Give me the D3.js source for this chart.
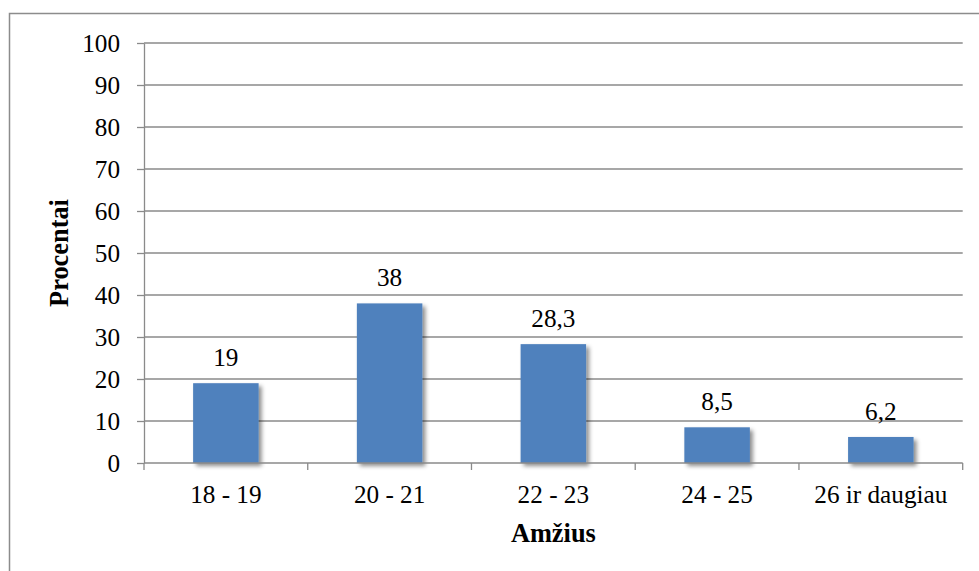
<!DOCTYPE html>
<html>
<head>
<meta charset="utf-8">
<script src="https://cdn.jsdelivr.net/npm/d3@7"></script>
<style>
  html, body { margin: 0; padding: 0; background: #fff; }
  svg { display: block; }
</style>
</head>
<body>
<svg id="chart" width="979" height="571"></svg>
<script>
// Age groups and share of respondents (%)
const categories = ["18 - 19", "20 - 21", "22 - 23", "24 - 25", "26 ir daugiau"];
const values = [19, 38, 28.3, 8.5, 6.2];
const valueLabels = ["19", "38", "28,3", "8,5", "6,2"];
const yTicks = [0, 10, 20, 30, 40, 50, 60, 70, 80, 90, 100];
const xTitle = "Amžius";
const yTitle = "Procentai";

const FONT = '"Liberation Serif", serif';

const svg = d3.select("#chart");
const plot = { left: 144, right: 962.7, top: 43, bottom: 463 };
const gridColor = "#8a8a8a";

// Pick font sizes so the text keeps its intended widths
function fitSize(str, weight, targetWidth) {
  const t = svg.append("text").style("font-family", FONT).style("font-weight", weight)
    .style("font-size", "100px").text(str);
  const w = t.node().getComputedTextLength();
  t.remove();
  return w > 0 ? 100 * targetWidth / w : 25;
}
const labelSize = fitSize("18 - 19", "normal", 71.5);
const titleSize = fitSize("Amžius", "bold", 85);

function serif(sel, size, weight) {
  return sel.style("font-family", FONT).style("font-size", size + "px")
    .style("font-weight", weight || "normal").style("fill", "#000");
}

// Shadow under the bars
const defs = svg.append("defs");
const f = defs.append("filter").attr("id", "barShadow")
  .attr("x", "-20%").attr("y", "-20%").attr("width", "150%").attr("height", "150%");
f.append("feDropShadow").attr("dx", 3).attr("dy", 3).attr("stdDeviation", 2)
  .attr("flood-color", "#000").attr("flood-opacity", 0.45);

// Outer chart frame (runs off the right and bottom edges)
svg.append("rect")
  .attr("x", 9.5).attr("y", 13.5).attr("width", 1000).attr("height", 600)
  .attr("fill", "none").attr("stroke", "#8c8c8c").attr("stroke-width", 1.5);

const x = d3.scaleBand().domain(categories).range([plot.left, plot.right]).padding(0);
const y = d3.scaleLinear().domain([0, 100]).range([plot.bottom, plot.top]);

// Horizontal gridlines
svg.append("g").selectAll("line").data(yTicks.filter(d => d > 0)).join("line")
  .attr("x1", plot.left).attr("x2", plot.right)
  .attr("y1", d => y(d)).attr("y2", d => y(d))
  .attr("stroke", gridColor).attr("stroke-width", 1.3);

// Y axis
const yAxis = svg.append("g").attr("transform", `translate(${plot.left},0)`)
  .call(d3.axisLeft(y).tickValues(yTicks).tickSize(7).tickPadding(17).tickSizeOuter(0));
yAxis.select(".domain").attr("stroke", gridColor).attr("stroke-width", 1.3);
yAxis.selectAll(".tick line").attr("stroke", gridColor).attr("stroke-width", 1.3);
serif(yAxis.selectAll(".tick text"), labelSize);

// Bars
const barW = x.bandwidth() * 0.4;
svg.append("g").selectAll("rect").data(values).join("rect")
  .attr("x", (d, i) => x(categories[i]) + (x.bandwidth() - barW) / 2)
  .attr("width", barW)
  .attr("y", d => y(d))
  .attr("height", d => y(0) - y(d))
  .attr("fill", "#4f81bd")
  .attr("filter", "url(#barShadow)");

// X axis with ticks between categories
const xAxisG = svg.append("g").attr("transform", `translate(0,${plot.bottom})`);
xAxisG.append("line").attr("x1", plot.left).attr("x2", plot.right)
  .attr("stroke", gridColor).attr("stroke-width", 1.3);
const bounds = categories.map(c => x(c)).concat([plot.right]);
xAxisG.selectAll("line.tk").data(bounds).join("line").attr("class", "tk")
  .attr("x1", d => d).attr("x2", d => d).attr("y1", 0).attr("y2", 7)
  .attr("stroke", gridColor).attr("stroke-width", 1.3);
serif(xAxisG.selectAll("text").data(categories).join("text")
  .attr("x", d => x(d) + x.bandwidth() / 2).attr("y", 40)
  .attr("text-anchor", "middle"), labelSize)
  .text(d => d);

// Value labels above the bars
serif(svg.append("g").selectAll("text").data(values).join("text")
  .attr("x", (d, i) => x(categories[i]) + x.bandwidth() / 2)
  .attr("y", d => y(d) - 17)
  .attr("text-anchor", "middle"), labelSize)
  .text((d, i) => valueLabels[i]);

// Axis titles
serif(svg.append("text")
  .attr("x", (plot.left + plot.right) / 2).attr("y", 541.5)
  .attr("text-anchor", "middle"), titleSize, "bold")
  .text(xTitle);
serif(svg.append("text")
  .attr("transform", `translate(68,${(plot.top + plot.bottom) / 2}) rotate(-90)`)
  .attr("text-anchor", "middle"), titleSize, "bold")
  .text(yTitle);
</script>
</body>
</html>
